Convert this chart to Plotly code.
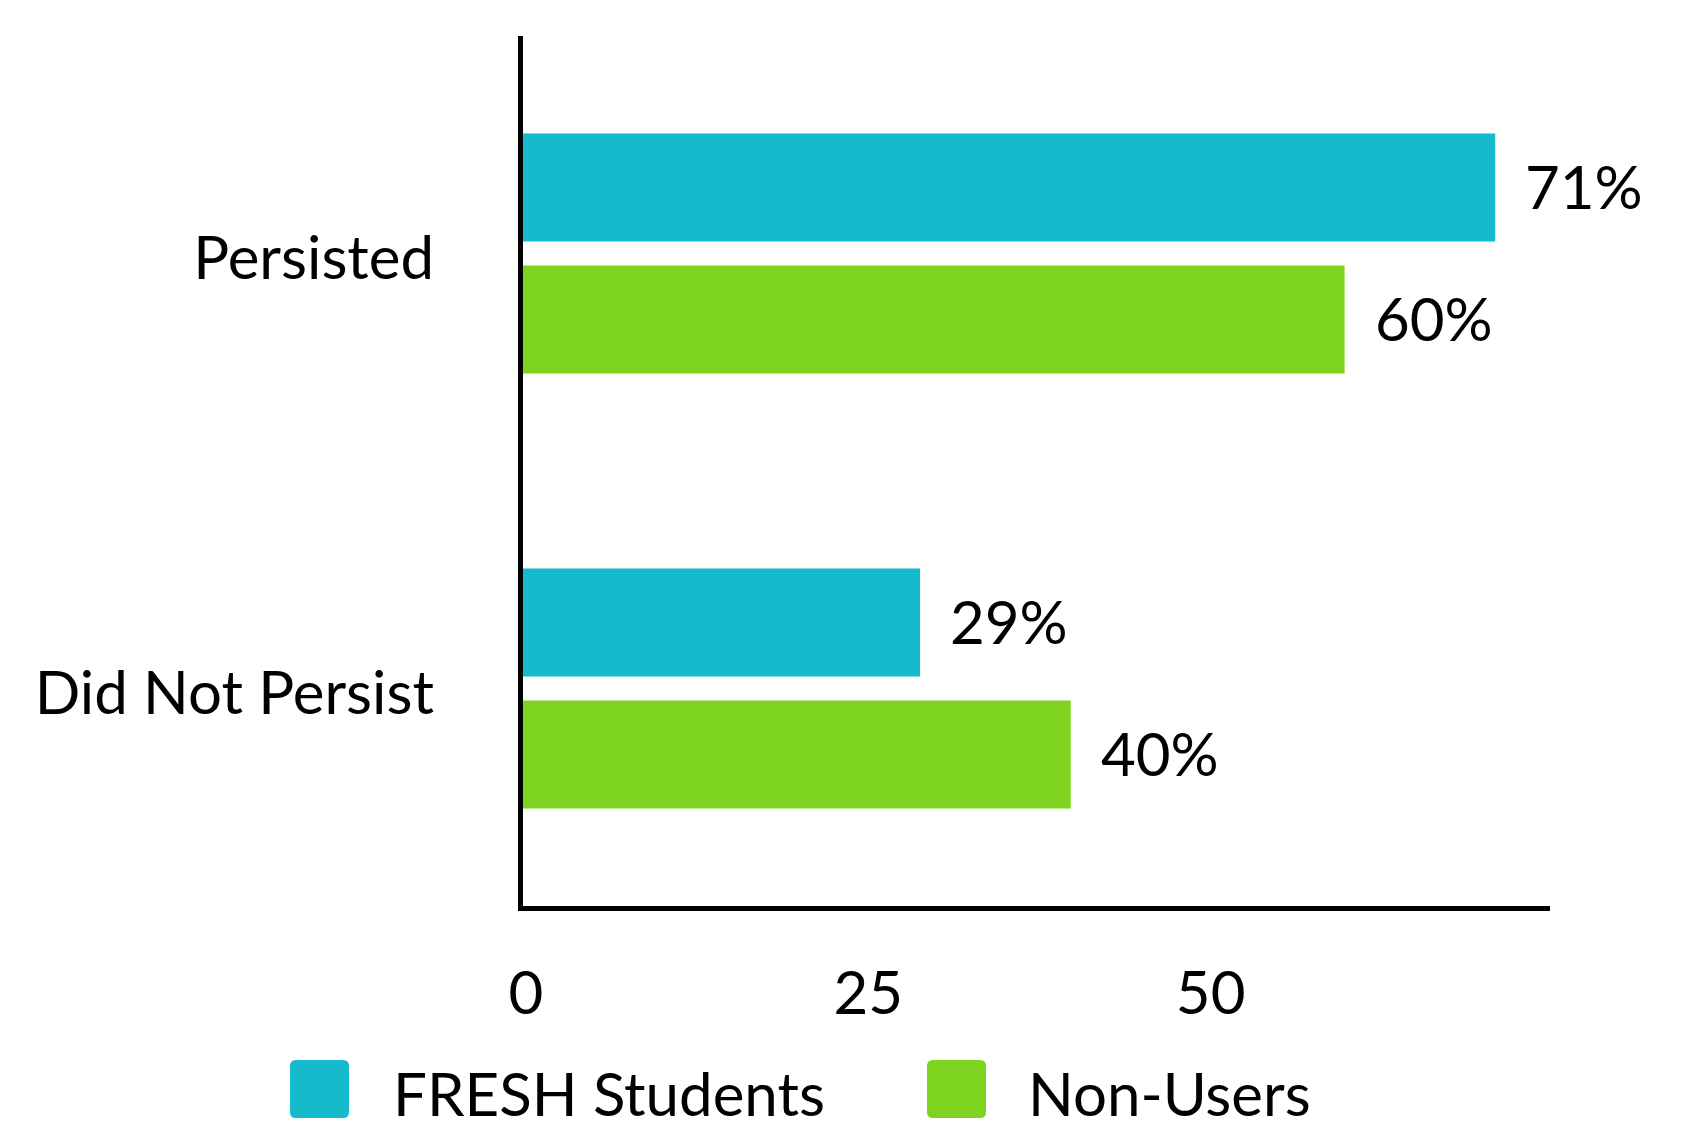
import plotly.graph_objects as go

categories = ["Persisted", "Did Not Persist"]
fresh_values = [71, 29]
nonuser_values = [60, 40]
series_names = ["FRESH Students", "Non-Users"]
x_tick_values = [0, 25, 50]
x_tick_labels = ["0", "25", "50"]

COLORS = ["#15BACD", "#7ED321"]
FONT = "Lato"
FS = 60

# page has an 8px body margin; size the figure so it fits the 1681x1126 window
OFF = 8
W, H = 1681 - 2 * OFF, 1126 - 2 * OFF
PL, PT, PR, PB = 523 - OFF, 36 - OFF, 1550 - OFF, 906 - OFF   # plot area in figure px
L, T, R, B = PL, PT, W - PR, H - PB
PW, PH = PR - PL, PB - PT

fig = go.Figure()
for name, vals, col in zip(series_names, [fresh_values, nonuser_values], COLORS):
    fig.add_trace(go.Bar(
        y=categories, x=vals, orientation="h", name=name,
        marker=dict(color=col, line=dict(width=0)),
        showlegend=False, hoverinfo="skip",
    ))

annotations = []
# value labels beside each bar
for vals, shift in [(fresh_values, 66), (nonuser_values, -66)]:
    for cat, v in zip(categories, vals):
        annotations.append(dict(
            x=v, y=cat, xref="x", yref="y", text=f"{v}%", showarrow=False,
            xanchor="left", yanchor="middle", xshift=28, yshift=shift + 2,
            font=dict(family=FONT, size=FS, color="#000000"),
        ))


def rounded(x0, y0, x1, y1, r):
    return (f"M {x0+r},{y0} L {x1-r},{y0} Q {x1},{y0} {x1},{y0+r} "
            f"L {x1},{y1-r} Q {x1},{y1} {x1-r},{y1} L {x0+r},{y1} "
            f"Q {x0},{y1} {x0},{y1-r} L {x0},{y0+r} Q {x0},{y0} {x0+r},{y0} Z")


# custom legend with large rounded swatches (page px -> figure px)
shapes = []
swatch_x = [290 - OFF, 927 - OFF]
text_x = [391 - OFF, 1026 - OFF]
sw_top, sw_bot = 1060 - OFF, 1118 - OFF
for i, name in enumerate(series_names):
    x0, x1 = swatch_x[i] - PL, swatch_x[i] + 59 - PL
    y0, y1 = -(sw_bot - PB), -(sw_top - PB)
    shapes.append(dict(
        type="path", xref="paper", yref="paper",
        xsizemode="pixel", ysizemode="pixel", xanchor=0, yanchor=0,
        path=rounded(x0, y0, x1, y1, 6),
        fillcolor=COLORS[i], line=dict(width=0),
    ))
    annotations.append(dict(
        x=(text_x[i] - PL) / PW, y=(PB - (1093 - OFF)) / PH,
        xref="paper", yref="paper",
        text=name, showarrow=False, xanchor="left", yanchor="middle",
        font=dict(family=FONT, size=FS, color="#000000"),
    ))

fig.update_layout(
    width=W, height=H,
    margin=dict(l=L, r=R, t=T, b=B, pad=0),
    paper_bgcolor="white", plot_bgcolor="white",
    barmode="group", bargap=0.393, bargroupgap=0.182,
    font=dict(family=FONT, size=FS, color="#000000"),
    showlegend=False,
    annotations=annotations,
    shapes=shapes,
    xaxis=dict(
        range=[0, 75], tickvals=x_tick_values, ticktext=x_tick_labels,
        showgrid=False, zeroline=False, showline=True, linecolor="#000000",
        linewidth=5, ticks="", ticklabelstandoff=31, ticklabelshift=3,
        tickfont=dict(family=FONT, size=FS, color="#000000"),
    ),
    yaxis=dict(
        autorange="reversed", categoryorder="array", categoryarray=categories,
        showgrid=False, zeroline=False, showline=True, linecolor="#000000",
        linewidth=5, ticks="", ticklabelstandoff=72, ticklabelshift=-4,
        tickfont=dict(family=FONT, size=FS, color="#000000"),
    ),
)

fig.write_html("out.html")
